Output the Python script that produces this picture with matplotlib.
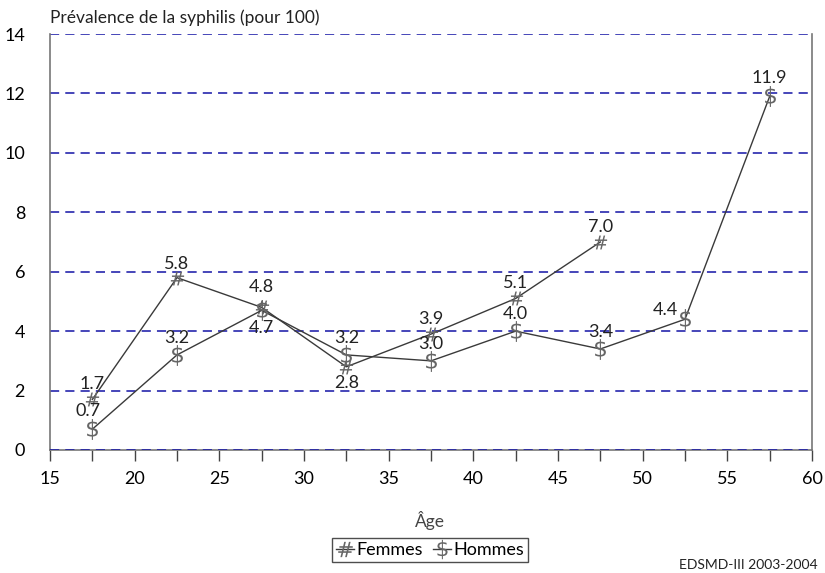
import matplotlib
matplotlib.use("Agg")
import matplotlib.pyplot as plt
from matplotlib.lines import Line2D

plt.rcParams['font.family'] = ['Lato', 'DejaVu Sans']
plt.rcParams['mathtext.fontset'] = 'dejavusans'

# Prevalence by 5-year age group (midpoints)
ages_femmes = [17.5, 22.5, 27.5, 32.5, 37.5, 42.5, 47.5]
femmes = [1.7, 5.8, 4.8, 2.8, 3.9, 5.1, 7.0]
ages_hommes = [17.5, 22.5, 27.5, 32.5, 37.5, 42.5, 47.5, 52.5, 57.5]
hommes = [0.7, 3.2, 4.7, 3.2, 3.0, 4.0, 3.4, 4.4, 11.9]

# label offsets (points) for each value
off_femmes = [(0, 11), (0, 10), (0, 15), (0, -12), (0, 11), (0, 11), (0, 11)]
off_hommes = [(-3, 13), (0, 12), (0, -13), (0, 12), (0, 12), (0, 12), (0, 12), (-14, 7), (0, 13)]

fig = plt.figure(figsize=(8.25, 5.73), dpi=100)
ax = fig.add_axes([50 / 825, 1 - 450 / 573, 762 / 825, 416 / 573])

grid_color = '#1414a6'
for yv in range(2, 16, 2):
    ax.axhline(yv, color=grid_color, lw=1.1, ls=(0, (6, 4)), zorder=1)
ax.axhline(0, color=grid_color, lw=1.1, ls=(0, (6, 4)), zorder=3)

line_kw = dict(color='#3a3a3a', lw=1.0, markeredgewidth=0,
               markerfacecolor='#666666', zorder=4)
ax.plot(ages_femmes, femmes, marker=r'$\#$', markersize=10, **line_kw)
ax.plot(ages_hommes, hommes, marker=r'$\$$', markersize=15, **line_kw)

label_kw = dict(textcoords='offset points', ha='center', va='center',
                fontsize=13, color='#222222', zorder=5)
for x, y, off in zip(ages_femmes, femmes, off_femmes):
    ax.annotate(f"{y:.1f}", (x, y), xytext=off, **label_kw)
for x, y, off in zip(ages_hommes, hommes, off_hommes):
    ax.annotate(f"{y:.1f}", (x, y), xytext=off, **label_kw)

ax.set_xlim(15, 60)
ax.set_ylim(0, 14)
ax.set_xticks(range(15, 61, 5))
ax.set_xticks([x + 2.5 for x in range(15, 60, 5)], minor=True)
ax.set_yticks(range(0, 15, 2))
ax.tick_params(axis='x', which='both', direction='out', length=8, width=1,
               color='#444444', labelsize=13, pad=7)
ax.tick_params(axis='y', length=0, labelsize=13, pad=18)

for side in ['left', 'bottom', 'right']:
    ax.spines[side].set_color('#777777')
    ax.spines[side].set_linewidth(1.2)
ax.spines['top'].set_visible(False)

fig.text(50 / 825, 1 - 18 / 573, "Prévalence de la syphilis (pour 100)",
         fontsize=12.5, ha='left', va='center', color='#222222')
fig.text(430 / 825, 1 - 520 / 573, "Âge", fontsize=12.5, ha='center', va='center',
         color='#444444')
fig.text(818 / 825, 1 - 565 / 573, "EDSMD-III 2003-2004", fontsize=10,
         ha='right', va='center', color='#222222')

handles = [
    Line2D([], [], color='#3a3a3a', lw=1.0, marker=r'$\#$', markersize=11,
           markeredgewidth=0, markerfacecolor='#666666'),
    Line2D([], [], color='#3a3a3a', lw=1.0, marker=r'$\$$', markersize=14,
           markeredgewidth=0, markerfacecolor='#666666'),
]
leg = fig.legend(handles, ["Femmes", "Hommes"], loc='center',
                 bbox_to_anchor=(430 / 825, 1 - 550 / 573), ncol=2,
                 fontsize=13, frameon=True, fancybox=False, handlelength=1.0,
                 handletextpad=0.1, columnspacing=0.6, borderpad=0.2,
                 borderaxespad=0)
leg.get_frame().set_edgecolor('#222222')
leg.get_frame().set_linewidth(1.0)

fig.savefig("out.png", dpi=100)
